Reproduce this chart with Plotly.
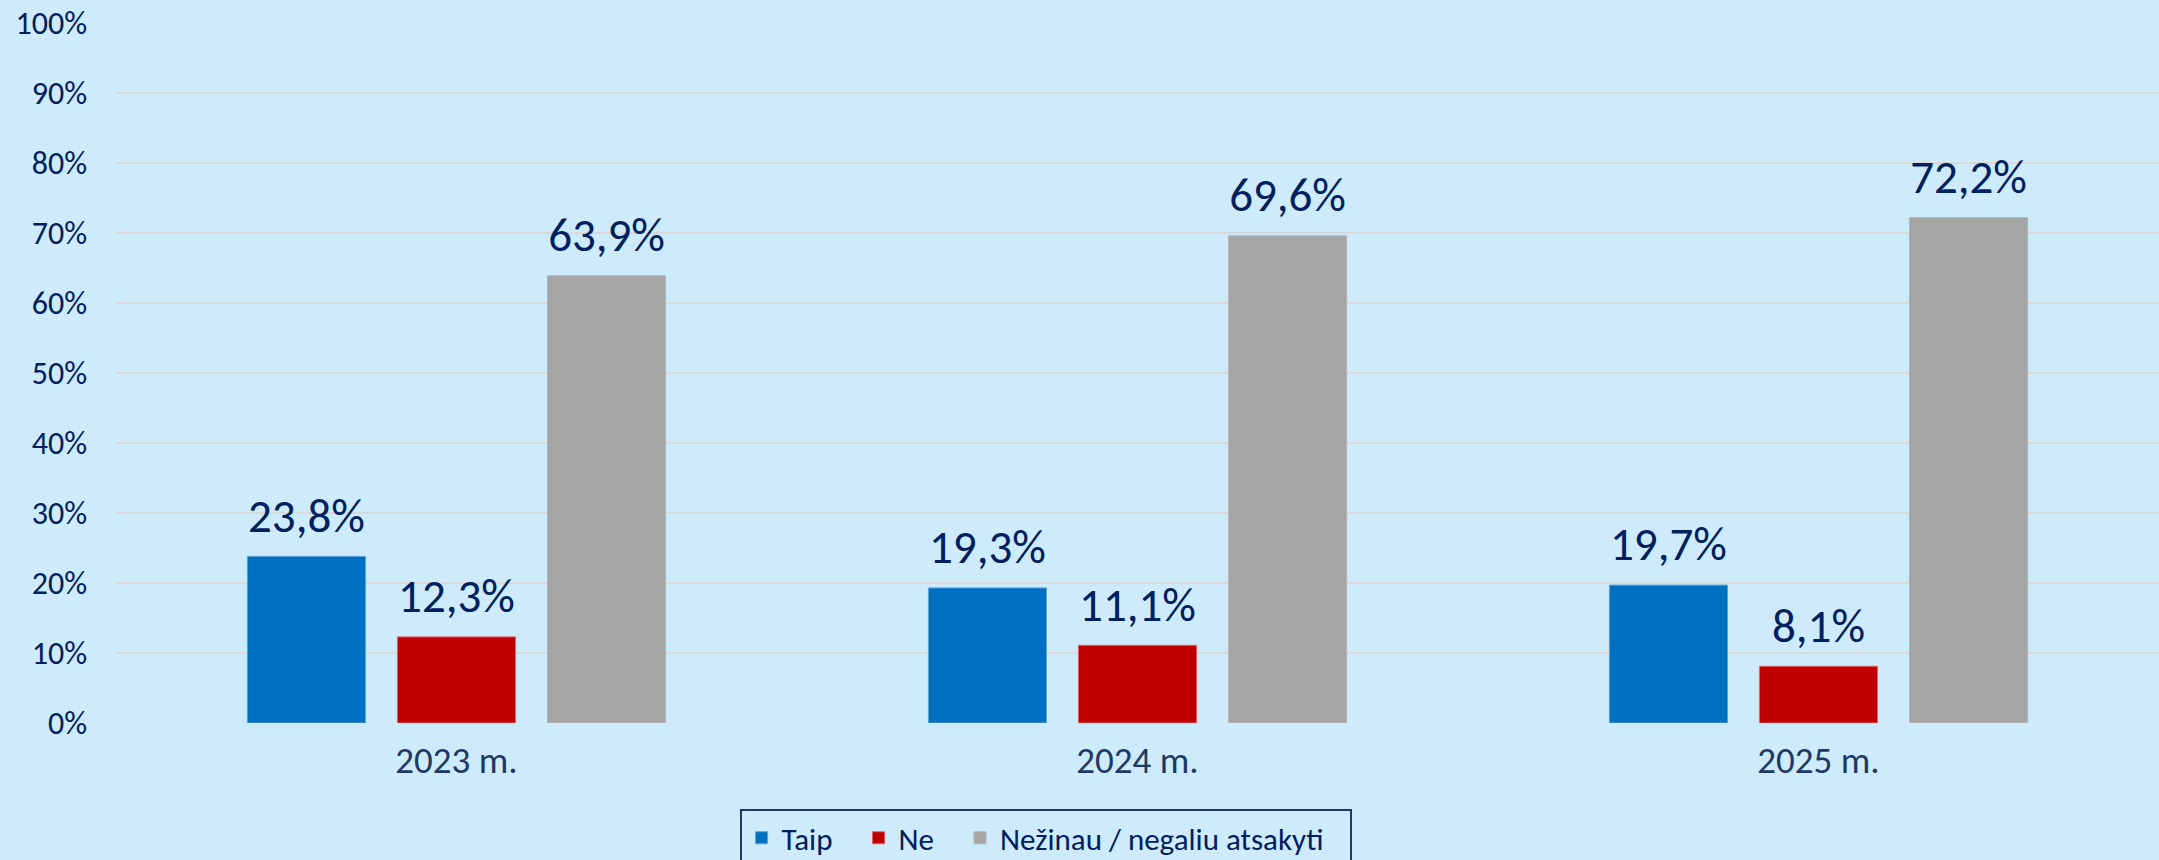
import plotly.graph_objects as go

categories = ["2023 m.", "2024 m.", "2025 m."]
series_names = ["Taip", "Ne", "Nežinau / negaliu atsakyti"]
taip = [23.8, 19.3, 19.7]
ne = [12.3, 11.1, 8.1]
nezinau = [63.9, 69.6, 72.2]
y_ticks = [0, 10, 20, 30, 40, 50, 60, 70, 80, 90, 100]
y_tick_labels = [f"{v}%" for v in y_ticks]

colors = ["#0070C0", "#C00000", "#A5A5A5"]
line_colors = ["#5BA3DB", "#E06060", "#B5B5B5"]
FONT = "Carlito, Lato, sans-serif"
NAVY = "#002060"
PAD = "\u00a0\u00a0\u00a0"

fig = go.Figure()
all_series = [taip, ne, nezinau]
for name, vals, c, lc in zip(series_names, all_series, colors, line_colors):
    fig.add_trace(go.Bar(
        name=name + PAD, x=categories, y=vals,
        marker=dict(color=c, line=dict(color=lc, width=1)),
        hovertemplate=name + ": %{y}%<extra></extra>",
    ))
# value labels, grouped like the bars
for name, vals in zip(series_names, all_series):
    fig.add_trace(go.Scatter(
        x=categories, y=vals, mode="markers+text",
        marker=dict(size=19, opacity=0),
        text=[f"{v:.1f}%".replace(".", ",") for v in vals],
        textposition="top center",
        textfont=dict(family=FONT, size=47, color=NAVY),
        showlegend=False, cliponaxis=False, hoverinfo="skip",
    ))

fig.update_layout(
    width=2159, height=860,
    paper_bgcolor="#CDEBFB", plot_bgcolor="#CDEBFB",
    margin=dict(l=116, r=0, t=23, b=137, autoexpand=False),
    barmode="group", bargap=0.339, bargroupgap=0.213,
    scattermode="group", scattergap=0.339,
    font=dict(family=FONT, color=NAVY),
    showlegend=True,
    legend=dict(
        orientation="h", x=0.455, xanchor="center", y=-0.123, yanchor="top",
        font=dict(family=FONT, size=31, color=NAVY),
        bordercolor="#1F3864", borderwidth=2, bgcolor="rgba(0,0,0,0)",
    ),
    xaxis=dict(
        showgrid=False, showline=False, zeroline=False, ticks="",
        tickfont=dict(family=FONT, size=37, color="#203864"),
        ticklabelstandoff=12,
    ),
    yaxis=dict(
        range=[0, 100], tickvals=y_ticks, ticktext=y_tick_labels,
        showgrid=True, gridcolor="#D9D9D9", gridwidth=2,
        zeroline=False, showline=False, ticks="",
        tickfont=dict(family=FONT, size=32, color=NAVY),
        ticklabelstandoff=28,
    ),
)

fig.write_html("out.html", config={"displayModeBar": False},
               post_script="document.body.style.margin='0';")
